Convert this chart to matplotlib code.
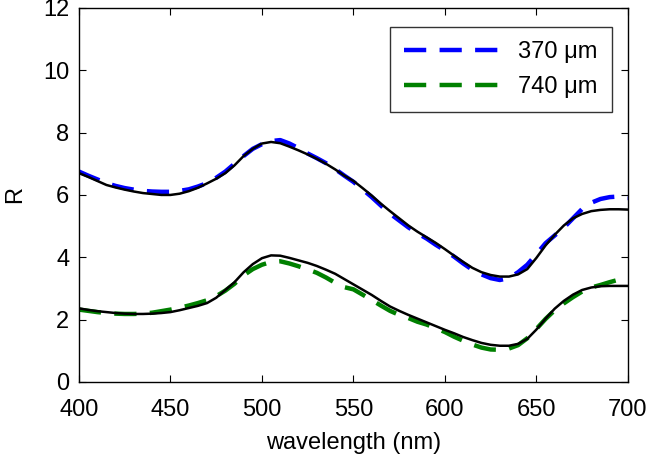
import matplotlib
matplotlib.use("Agg")
import matplotlib.pyplot as plt

plt.rcParams["font.family"] = ["Liberation Sans", "DejaVu Sans"]

# comprimento de onda (nm), passo de 5 nm
wavelength = list(range(400, 701, 5))

# medido, 370 um (tracejado azul)
r_370 = [6.75, 6.62, 6.50, 6.38, 6.29, 6.22, 6.17, 6.13, 6.11, 6.10,
         6.10, 6.13, 6.18, 6.27, 6.38, 6.55, 6.75, 7.00, 7.25, 7.48,
         7.63, 7.73, 7.76, 7.65, 7.50, 7.33, 7.18, 7.02, 6.83, 6.62,
         6.42, 6.18, 5.93, 5.66, 5.40, 5.18, 4.96, 4.77, 4.60, 4.40,
         4.22, 4.02, 3.80, 3.60, 3.45, 3.33, 3.27, 3.33, 3.52, 3.76,
         4.10, 4.45, 4.70, 4.95, 5.25, 5.55, 5.75, 5.87, 5.93, 5.95,
         5.90]
# ajuste, 370 um (linha preta)
fit_370 = [6.70, 6.58, 6.45, 6.32, 6.24, 6.17, 6.11, 6.06, 6.03, 6.00,
           6.00, 6.04, 6.12, 6.23, 6.37, 6.52, 6.70, 6.95, 7.25, 7.48,
           7.65, 7.70, 7.66, 7.55, 7.43, 7.30, 7.16, 7.00, 6.82, 6.62,
           6.45, 6.22, 5.98, 5.72, 5.48, 5.25, 5.02, 4.82, 4.64, 4.46,
           4.26, 4.05, 3.85, 3.66, 3.52, 3.43, 3.38, 3.38, 3.45, 3.62,
           3.98, 4.38, 4.72, 5.02, 5.25, 5.39, 5.48, 5.52, 5.54, 5.54,
           5.53]
# medido, 740 um (tracejado verde)
r_740 = [2.32, 2.28, 2.24, 2.21, 2.19, 2.18, 2.18, 2.19, 2.22, 2.27,
         2.32, 2.38, 2.45, 2.53, 2.62, 2.75, 2.93, 3.15, 3.42, 3.62,
         3.76, 3.85, 3.87, 3.80, 3.71, 3.61, 3.50, 3.35, 3.18, 3.04,
         2.97, 2.80, 2.63, 2.45, 2.28, 2.15, 2.05, 1.93, 1.84, 1.72,
         1.60, 1.45, 1.32, 1.20, 1.10, 1.04, 1.03, 1.07, 1.18, 1.40,
         1.70, 2.02, 2.30, 2.52, 2.72, 2.90, 3.03, 3.11, 3.20, 3.28,
         3.33]
# ajuste, 740 um (linha preta)
fit_740 = [2.36, 2.31, 2.27, 2.24, 2.21, 2.19, 2.18, 2.18, 2.19, 2.21,
           2.24, 2.30, 2.37, 2.44, 2.53, 2.70, 2.95, 3.20, 3.52, 3.78,
           3.97, 4.06, 4.05, 3.98, 3.90, 3.82, 3.72, 3.60, 3.47, 3.30,
           3.13, 2.96, 2.79, 2.60, 2.42, 2.28, 2.15, 2.03, 1.91, 1.79,
           1.67, 1.56, 1.44, 1.34, 1.25, 1.19, 1.16, 1.16, 1.22, 1.38,
           1.68, 2.03, 2.35, 2.60, 2.80, 2.95, 3.03, 3.07, 3.08, 3.08,
           3.08]

labels = ["370 μm", "740 μm"]
FS = 17

fig = plt.figure(figsize=(6.5, 4.59), dpi=100)
ax = fig.add_axes([0.1215, 0.168, 0.8445, 0.8146])

tracejado = (0, (5, 3))
ax.plot(wavelength, r_370, color="#0000ff", lw=3.2, ls=tracejado, label=labels[0])
ax.plot(wavelength, r_740, color="#008000", lw=3.2, ls=tracejado, label=labels[1])
ax.plot(wavelength, fit_370, color="black", lw=1.8)
ax.plot(wavelength, fit_740, color="black", lw=1.8)

ax.set_xlim(400, 700)
ax.set_ylim(0, 12)
ax.set_xticks(range(400, 701, 50))
ax.set_yticks(range(0, 13, 2))
ax.tick_params(direction="in", length=5, width=0.8, labelsize=FS,
               top=True, right=True)
ax.tick_params(axis="x", pad=12)
ax.tick_params(axis="y", pad=7)
for s in ax.spines.values():
    s.set_linewidth(1.0)
ax.set_xlabel("wavelength (nm)", fontsize=FS)
ax.set_ylabel("R", fontsize=FS)
ax.xaxis.set_label_coords(0.5, -0.135)
ax.yaxis.set_label_coords(-0.097, 0.5)

leg = ax.legend(loc="upper right", fontsize=FS, handlelength=4.4,
                handletextpad=0.45, labelspacing=0.55, borderpad=0.6,
                frameon=True, fancybox=False, borderaxespad=0,
                bbox_to_anchor=(0.9709, 0.949))
leg.get_frame().set_edgecolor("black")
leg.get_frame().set_linewidth(1.0)

fig.savefig("out.png", dpi=100)
